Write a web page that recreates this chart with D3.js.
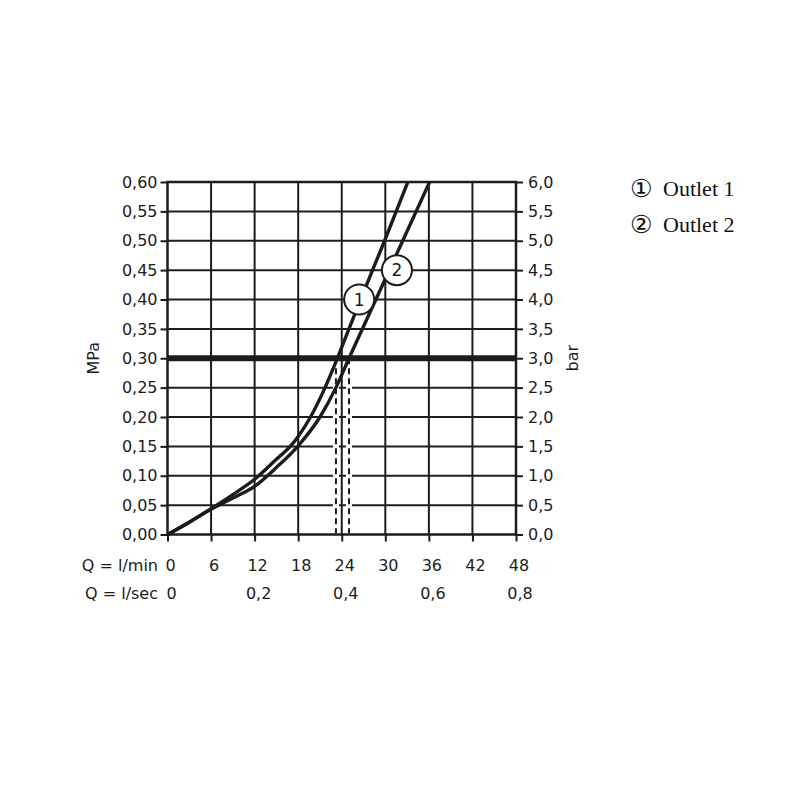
<!DOCTYPE html>
<html>
<head>
<meta charset="utf-8">
<script src="https://cdn.jsdelivr.net/npm/d3@7"></script>
<style>
  body { margin: 0; background: #fff; }
  svg { display: block; }
</style>
</head>
<body>
<svg id="chart" width="800" height="800"></svg>
<script>
// flow (l/min) vs pressure (MPa)
const outlet1Flow = [0, 3, 6, 9, 12, 15, 16.9, 18, 19.7, 21.7, 23.4, 25.0, 26.6, 29.9, 33.1];
const outlet1Press = [0, 0.021, 0.044, 0.068, 0.094, 0.128, 0.15, 0.167, 0.20, 0.25, 0.30, 0.35, 0.40, 0.50, 0.60];
const outlet2Flow = [0, 3, 6, 9, 12, 15, 18, 21.0, 23.2, 25.0, 28.7, 32.4, 36.1];
const outlet2Press = [0, 0.021, 0.043, 0.062, 0.082, 0.114, 0.151, 0.20, 0.25, 0.30, 0.40, 0.50, 0.60];

const mpaTicks = [0, 0.05, 0.1, 0.15, 0.2, 0.25, 0.3, 0.35, 0.4, 0.45, 0.5, 0.55, 0.6];
const barTicks = [0, 0.5, 1, 1.5, 2, 2.5, 3, 3.5, 4, 4.5, 5, 5.5, 6];
const lminTicks = [0, 6, 12, 18, 24, 30, 36, 42, 48];
const lsecTicks = [0, 0.2, 0.4, 0.6, 0.8];

const refPressure = 0.30;        // thick line
const dashFlows = [23.2, 25.0];  // flow of each outlet at 0,3 MPa
const markers = [
  { label: "1", q: 26.4, p: 0.40 },
  { label: "2", q: 31.6, p: 0.45 }
];
const legendSymbols = ["①", "②"];
const legendNames = ["Outlet 1", "Outlet 2"];

const svg = d3.select("#chart");
const plotL = 167.5, plotR = 516, plotT = 182, plotB = 534.5;
const ink = "#1c1c1c";
const tickFont = "'DejaVu Sans', sans-serif";

const x = d3.scaleLinear().domain([0, 48]).range([plotL, plotR]);
const y = d3.scaleLinear().domain([0, 0.6]).range([plotB, plotT]);
const yBar = d3.scaleLinear().domain([0, 6]).range([plotB, plotT]);
const xSec = d3.scaleLinear().domain([0, 0.8]).range([plotL, plotR]);

// grid
const g = svg.append("g");
g.selectAll(".vgrid").data(lminTicks.slice(1, -1)).join("line")
  .attr("x1", d => x(d)).attr("x2", d => x(d))
  .attr("y1", plotT).attr("y2", plotB)
  .attr("stroke", ink).attr("stroke-width", 2);
g.selectAll(".hgrid").data(mpaTicks.slice(1, -1)).join("line")
  .attr("x1", plotL).attr("x2", plotR)
  .attr("y1", d => y(d)).attr("y2", d => y(d))
  .attr("stroke", ink).attr("stroke-width", 2);

// dashed drop lines with a white knockout
dashFlows.forEach(q => {
  g.append("line")
    .attr("x1", x(q)).attr("x2", x(q)).attr("y1", y(refPressure)).attr("y2", plotB)
    .attr("stroke", "#fff").attr("stroke-width", 6);
  g.append("line")
    .attr("x1", x(q)).attr("x2", x(q)).attr("y1", y(refPressure)).attr("y2", plotB - 1)
    .attr("stroke", ink).attr("stroke-width", 2).attr("stroke-dasharray", "6,4");
});

// axes
const axL = svg.append("g").attr("transform", `translate(${plotL},0)`)
  .call(d3.axisLeft(y).tickValues(mpaTicks).tickSize(7).tickPadding(3).tickFormat(d3.format(".2f")));
const axR = svg.append("g").attr("transform", `translate(${plotR},0)`)
  .call(d3.axisRight(yBar).tickValues(barTicks).tickSize(7).tickPadding(5).tickFormat(d3.format(".1f")));
const axB = svg.append("g").attr("transform", `translate(0,${plotB})`)
  .call(d3.axisBottom(x).tickValues(lminTicks).tickSize(7).tickFormat(""));
[axL, axR, axB].forEach(a => {
  a.select(".domain").remove();
  a.selectAll(".tick line").attr("stroke", ink).attr("stroke-width", 2);
  a.selectAll(".tick text").attr("fill", ink).style("font-family", tickFont).style("font-size", "16px")
    .text(function () { return this.textContent.replace(".", ","); });
});

// frame
svg.append("rect").attr("x", plotL).attr("y", plotT)
  .attr("width", plotR - plotL).attr("height", plotB - plotT)
  .attr("fill", "none").attr("stroke", ink).attr("stroke-width", 2.5);

// reference pressure line
svg.append("line").attr("x1", plotL).attr("x2", plotR)
  .attr("y1", y(refPressure)).attr("y2", y(refPressure))
  .attr("stroke", ink).attr("stroke-width", 6);

// curves
const line = d3.line().x(d => x(d[0])).y(d => y(d[1])).curve(d3.curveMonotoneX);
[[outlet1Flow, outlet1Press], [outlet2Flow, outlet2Press]].forEach(([qs, ps]) => {
  svg.append("path").datum(qs.map((q, i) => [q, ps[i]]))
    .attr("d", line).attr("fill", "none")
    .attr("stroke", ink).attr("stroke-width", 3.4).attr("stroke-linejoin", "round");
});

// circled curve labels
markers.forEach(m => {
  svg.append("circle").attr("cx", x(m.q)).attr("cy", y(m.p)).attr("r", 15)
    .attr("fill", "#fff").attr("stroke", ink).attr("stroke-width", 2);
  svg.append("text").attr("x", x(m.q)).attr("y", y(m.p)).attr("dy", "0.36em")
    .attr("text-anchor", "middle").style("font-family", tickFont).style("font-size", "17px")
    .attr("fill", ink).text(m.label);
});

// flow scales below
svg.append("g").selectAll("text").data(lminTicks).join("text")
  .attr("x", d => x(d) + 3).attr("y", 571).attr("text-anchor", "middle")
  .style("font-family", tickFont).style("font-size", "16px").attr("fill", ink)
  .text(d => d);
svg.append("g").selectAll("text").data(lsecTicks).join("text")
  .attr("x", d => xSec(d) + 4).attr("y", 599).attr("text-anchor", "middle")
  .style("font-family", tickFont).style("font-size", "16px").attr("fill", ink)
  .text(d => d === 0 ? "0" : d.toFixed(1).replace(".", ","));
svg.append("text").attr("x", 158).attr("y", 571).attr("text-anchor", "end")
  .style("font-family", tickFont).style("font-size", "16px").attr("fill", ink).text("Q = l/min");
svg.append("text").attr("x", 158).attr("y", 599).attr("text-anchor", "end")
  .style("font-family", tickFont).style("font-size", "16px").attr("fill", ink).text("Q = l/sec");

// axis titles
svg.append("text").attr("transform", `translate(99,${y(refPressure)}) rotate(-90)`)
  .attr("text-anchor", "middle").style("font-family", tickFont).style("font-size", "16px")
  .attr("fill", ink).text("MPa");
svg.append("text").attr("transform", `translate(578,${y(refPressure)}) rotate(-90)`)
  .attr("text-anchor", "middle").style("font-family", tickFont).style("font-size", "16px")
  .attr("fill", ink).text("bar");

// legend
const leg = svg.append("g");
leg.selectAll(".sym").data(legendSymbols).join("text")
  .attr("x", 630).attr("y", (d, i) => 197 + i * 36)
  .style("font-family", "'DejaVu Sans', sans-serif").style("font-size", "25px")
  .attr("fill", "#111").text(d => d);
leg.selectAll(".name").data(legendNames).join("text")
  .attr("x", 663).attr("y", (d, i) => 196 + i * 36)
  .style("font-family", "'Liberation Serif', serif").style("font-size", "22px")
  .attr("fill", "#111").text(d => d);
</script>
</body>
</html>
